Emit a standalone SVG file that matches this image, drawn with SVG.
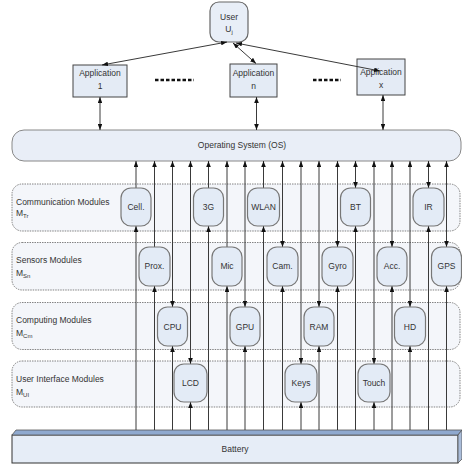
<svg xmlns="http://www.w3.org/2000/svg" width="462" height="466" viewBox="0 0 462 466">
<defs>
<marker id="a" viewBox="0 0 6 4.6" refX="6" refY="2.3" markerWidth="6" markerHeight="4.6" markerUnits="userSpaceOnUse" orient="auto-start-reverse"><path d="M0,0 L6,2.3 L0,4.6 z" fill="#111"/></marker>
</defs>
<style>
text{font-family:"Liberation Sans",Arial,sans-serif;font-size:8.5px;fill:#333}
.row{fill:#f4f6fa;stroke:#666;stroke-width:0.8;stroke-dasharray:1.5 1}
.mod{fill:#e3ebf6;stroke:#777;stroke-width:1.2}
.app{fill:#e4ebf5;stroke:#444;stroke-width:1}
.c{stroke:#3a3a3a;stroke-width:1;fill:none}
.m{text-anchor:middle}
.sub{font-size:6px}
</style>
<rect width="462" height="466" fill="#fff"/>

<g id="user"><rect x="210" y="2" width="38" height="40" rx="9" fill="#e8eef7" stroke="#666" stroke-width="1.2"/><text class="m" x="229" y="19.5">User</text><text class="m" x="229" y="31.5">U<tspan class="sub" dy="2">j</tspan></text></g>
<g id="app1"><rect class="app" x="73" y="65" width="54" height="32"/><text class="m" x="100" y="76">Application</text><text class="m" x="100" y="89">1</text></g>
<g id="appn"><rect class="app" x="230" y="64" width="47" height="33"/><text class="m" x="253.5" y="76">Application</text><text class="m" x="253.5" y="89">n</text></g>
<g id="appx"><rect class="app" x="357" y="59" width="48" height="36"/><text class="m" x="381" y="75">Application</text><text class="m" x="381" y="88">x</text></g>
<g id="dots"><line x1="155" y1="80" x2="194" y2="80" stroke="#111" stroke-width="2.6" stroke-dasharray="3.5 2"/><line x1="313" y1="80" x2="341" y2="80" stroke="#111" stroke-width="2.6" stroke-dasharray="3.5 2"/></g>

<g id="os"><rect x="12" y="130" width="449" height="31" rx="12" fill="#e9eef7" stroke="#888" stroke-width="1"/><text class="m" x="242" y="148">Operating System (OS)</text></g>

<g id="rows">
<g id="row-comm"><rect class="row" x="12" y="184" width="448" height="47" rx="10"/><text x="16" y="205">Communication Modules</text><text x="16" y="216">M<tspan class="sub" dy="2">Tr</tspan></text></g>
<g id="row-sens"><rect class="row" x="12" y="242.5" width="448" height="47.5" rx="10"/><text x="16" y="262.5">Sensors Modules</text><text x="16" y="276">M<tspan class="sub" dy="2">Sn</tspan></text></g>
<g id="row-comp"><rect class="row" x="12" y="302.5" width="448" height="47" rx="10"/><text x="16" y="323">Computing Modules</text><text x="16" y="336">M<tspan class="sub" dy="2">Cm</tspan></text></g>
<g id="row-ui"><rect class="row" x="12" y="361" width="448" height="46" rx="10"/><text x="16" y="381.5">User Interface Modules</text><text x="16" y="395">M<tspan class="sub" dy="2">UI</tspan></text></g>
</g>

<g id="battery">
<rect x="12" y="435" width="446" height="28" fill="#e6edf7" stroke="#333" stroke-width="1"/>
<polygon points="12,435 16,430 462,430 458,435" fill="#8fa9cf" stroke="#555" stroke-width="0.8"/>
<polygon points="458,435 462,430 462,459 458,463" fill="#a9bcd9" stroke="#555" stroke-width="0.8"/>
<text class="m" x="235" y="452">Battery</text>
</g>

<g id="connectors">
<line class="c" x1="227" y1="42" x2="102" y2="65" marker-start="url(#a)" marker-end="url(#a)"/>
<line class="c" x1="233" y1="43" x2="256" y2="63.5" marker-start="url(#a)" marker-end="url(#a)"/>
<line class="c" x1="236" y1="43" x2="380" y2="71" marker-start="url(#a)" marker-end="url(#a)"/>
<line class="c" x1="100" y1="97" x2="100" y2="130" marker-start="url(#a)" marker-end="url(#a)"/>
<line class="c" x1="256.5" y1="97" x2="256.5" y2="130" marker-start="url(#a)" marker-end="url(#a)"/>
<line class="c" x1="383" y1="95" x2="383" y2="130" marker-start="url(#a)" marker-end="url(#a)"/>

<line class="c" x1="136" y1="188" x2="136" y2="161" marker-end="url(#a)"/><line class="c" x1="136" y1="430" x2="136" y2="226" marker-end="url(#a)"/>
<line class="c" x1="154.5" y1="247" x2="154.5" y2="161" marker-end="url(#a)"/><line class="c" x1="154.5" y1="430" x2="154.5" y2="286" marker-end="url(#a)"/>
<line class="c" x1="172.5" y1="307" x2="172.5" y2="161" marker-start="url(#a)" marker-end="url(#a)"/><line class="c" x1="172.5" y1="430" x2="172.5" y2="346" marker-end="url(#a)"/>
<line class="c" x1="190.5" y1="364" x2="190.5" y2="161" marker-start="url(#a)" marker-end="url(#a)"/><line class="c" x1="190.5" y1="430" x2="190.5" y2="402" marker-end="url(#a)"/>
<line class="c" x1="208.5" y1="188" x2="208.5" y2="161" marker-end="url(#a)"/><line class="c" x1="208.5" y1="430" x2="208.5" y2="226" marker-end="url(#a)"/>
<line class="c" x1="227" y1="247" x2="227" y2="161" marker-end="url(#a)"/><line class="c" x1="227" y1="430" x2="227" y2="286" marker-end="url(#a)"/>
<line class="c" x1="245" y1="307" x2="245" y2="161" marker-start="url(#a)" marker-end="url(#a)"/><line class="c" x1="245" y1="430" x2="245" y2="346" marker-end="url(#a)"/>
<line class="c" x1="263.5" y1="188" x2="263.5" y2="161" marker-end="url(#a)"/><line class="c" x1="263.5" y1="430" x2="263.5" y2="226" marker-end="url(#a)"/>
<line class="c" x1="282.5" y1="247" x2="282.5" y2="161" marker-start="url(#a)" marker-end="url(#a)"/><line class="c" x1="282.5" y1="430" x2="282.5" y2="286" marker-end="url(#a)"/>
<line class="c" x1="301" y1="364" x2="301" y2="161" marker-start="url(#a)" marker-end="url(#a)"/><line class="c" x1="301" y1="430" x2="301" y2="402" marker-end="url(#a)"/>
<line class="c" x1="319" y1="307" x2="319" y2="161" marker-start="url(#a)" marker-end="url(#a)"/><line class="c" x1="319" y1="430" x2="319" y2="346" marker-end="url(#a)"/>
<line class="c" x1="337.5" y1="247" x2="337.5" y2="161" marker-start="url(#a)" marker-end="url(#a)"/><line class="c" x1="337.5" y1="430" x2="337.5" y2="286" marker-end="url(#a)"/>
<line class="c" x1="355.5" y1="188" x2="355.5" y2="161" marker-start="url(#a)" marker-end="url(#a)"/><line class="c" x1="355.5" y1="430" x2="355.5" y2="226" marker-end="url(#a)"/>
<line class="c" x1="374" y1="364" x2="374" y2="161" marker-start="url(#a)" marker-end="url(#a)"/><line class="c" x1="374" y1="430" x2="374" y2="402" marker-end="url(#a)"/>
<line class="c" x1="392" y1="247" x2="392" y2="161" marker-start="url(#a)" marker-end="url(#a)"/><line class="c" x1="392" y1="430" x2="392" y2="286" marker-end="url(#a)"/>
<line class="c" x1="410" y1="307" x2="410" y2="161" marker-start="url(#a)" marker-end="url(#a)"/><line class="c" x1="410" y1="430" x2="410" y2="346" marker-end="url(#a)"/>
<line class="c" x1="428.5" y1="188" x2="428.5" y2="161" marker-start="url(#a)" marker-end="url(#a)"/><line class="c" x1="428.5" y1="430" x2="428.5" y2="226" marker-end="url(#a)"/>
<line class="c" x1="446.5" y1="247" x2="446.5" y2="161" marker-start="url(#a)" marker-end="url(#a)"/><line class="c" x1="446.5" y1="430" x2="446.5" y2="286" marker-end="url(#a)"/>
</g>

<g id="cell"><rect class="mod" x="121" y="188" width="30" height="38" rx="10"/><text class="m" x="136" y="210">Cell.</text></g>
<g id="g3"><rect class="mod" x="193.5" y="188" width="30" height="38" rx="10"/><text class="m" x="208.5" y="210">3G</text></g>
<g id="wlan"><rect class="mod" x="247.5" y="188" width="32" height="38" rx="10"/><text class="m" x="263.5" y="210">WLAN</text></g>
<g id="bt"><rect class="mod" x="340.5" y="188" width="30" height="38" rx="10"/><text class="m" x="355.5" y="210">BT</text></g>
<g id="ir"><rect class="mod" x="413" y="188" width="31" height="38" rx="10"/><text class="m" x="428.5" y="210">IR</text></g>

<g id="prox"><rect class="mod" x="139" y="247" width="31" height="39" rx="10"/><text class="m" x="154.5" y="269">Prox.</text></g>
<g id="mic"><rect class="mod" x="212" y="247" width="30" height="39" rx="10"/><text class="m" x="227" y="269">Mic</text></g>
<g id="cam"><rect class="mod" x="267" y="247" width="31" height="39" rx="10"/><text class="m" x="282.5" y="269">Cam.</text></g>
<g id="gyro"><rect class="mod" x="322" y="247" width="31" height="39" rx="10"/><text class="m" x="337.5" y="269">Gyro</text></g>
<g id="acc"><rect class="mod" x="377" y="247" width="30" height="39" rx="10"/><text class="m" x="392" y="269">Acc.</text></g>
<g id="gps"><rect class="mod" x="431.5" y="247" width="30" height="39" rx="10"/><text class="m" x="446.5" y="269">GPS</text></g>

<g id="cpu"><rect class="mod" x="157.5" y="307" width="30" height="39" rx="10"/><text class="m" x="172.5" y="330">CPU</text></g>
<g id="gpu"><rect class="mod" x="230" y="307" width="30" height="39" rx="10"/><text class="m" x="245" y="330">GPU</text></g>
<g id="ram"><rect class="mod" x="304" y="307" width="30" height="39" rx="10"/><text class="m" x="319" y="330">RAM</text></g>
<g id="hd"><rect class="mod" x="394.5" y="307" width="31" height="39" rx="10"/><text class="m" x="410" y="330">HD</text></g>

<g id="lcd"><rect class="mod" x="174" y="364" width="33" height="38" rx="10"/><text class="m" x="190.5" y="386">LCD</text></g>
<g id="keys"><rect class="mod" x="285" y="364" width="32" height="38" rx="10"/><text class="m" x="301" y="386">Keys</text></g>
<g id="touch"><rect class="mod" x="358" y="364" width="32" height="38" rx="10"/><text class="m" x="374" y="386">Touch</text></g>
</svg>
